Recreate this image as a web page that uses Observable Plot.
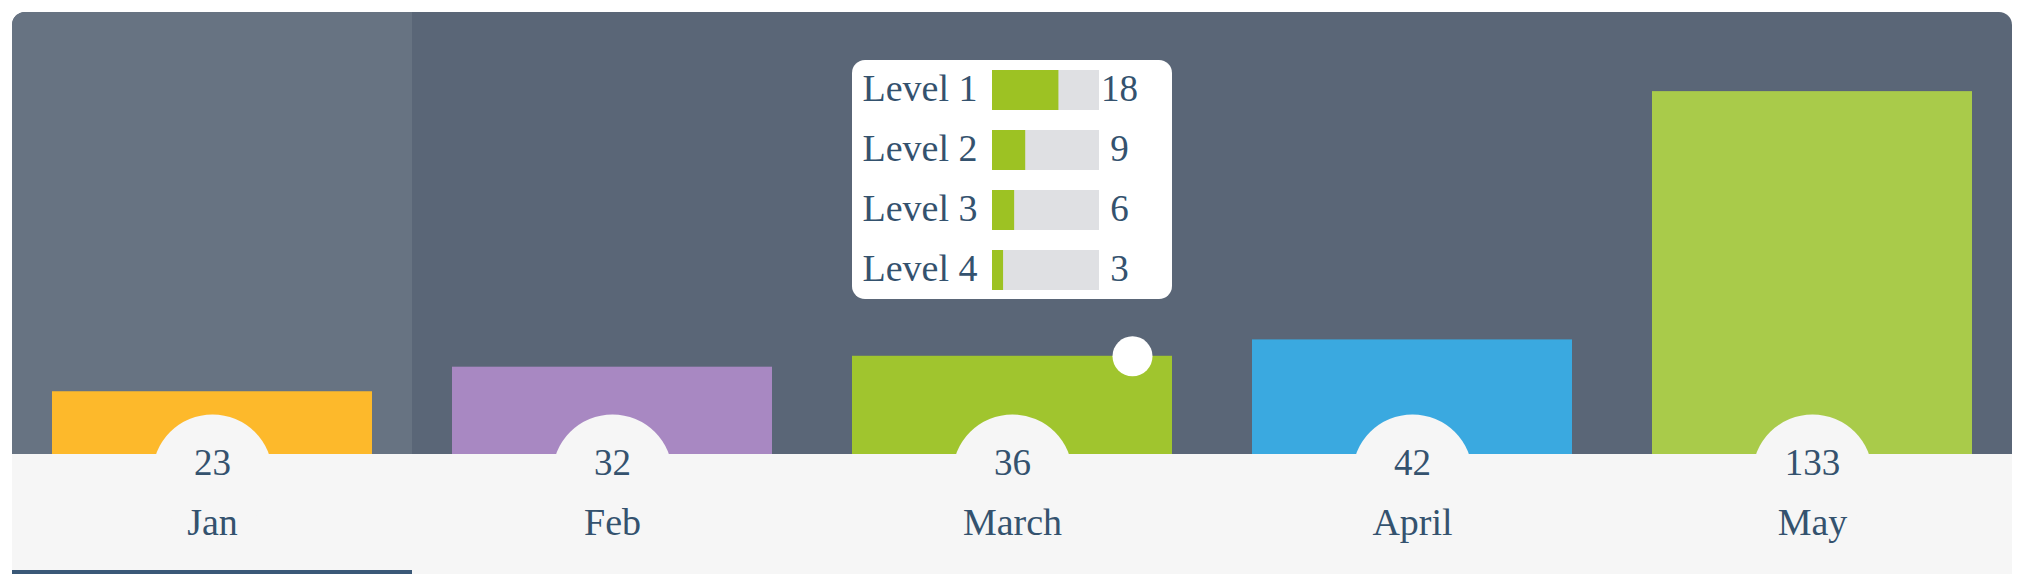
<!DOCTYPE html>
<html>
<head>
<meta charset="utf-8">
<script src="https://cdn.jsdelivr.net/npm/d3@7"></script>
<script src="https://cdn.jsdelivr.net/npm/@observablehq/plot@0.6"></script>
<style>
  html, body { margin: 0; padding: 0; background: #ffffff; }
  #wrap { position: relative; width: 2022px; height: 584px; }
  #panel { position: absolute; left: 12px; top: 12px; width: 2000px; height: 562px; border-radius: 13px 13px 0 0; overflow: hidden; }
  #tip { position: absolute; top: 60px; width: 320px; height: 239px; background: #ffffff; border-radius: 13px; overflow: hidden; }
  svg { display: block; }
</style>
</head>
<body>
<div id="wrap">
  <div id="panel"></div>
  <div id="tip"></div>
</div>
<script>
// ---- data ----
const months = ["Jan", "Feb", "March", "April", "May"];
const values = [23, 32, 36, 42, 133];
const colors = ["#fdb92b", "#a888c2", "#a0c52e", "#3aa9e0", "#a9cb4a"];
const selectedMonth = "Jan";
const hoveredMonth = "March";
const levels = ["Level 1", "Level 2", "Level 3", "Level 4"];
const levelValues = [18, 9, 6, 3];
const levelMax = 29;
const yMax = 162;

// ---- styles ----
const FONT = "'Liberation Serif', 'Times New Roman', Times, serif";
const TEXT = "#34526e";
const BAND = "#f6f6f6";
const WORD_SIZE = 38;
const NUM_SIZE = 37;

const data = months.map((m, i) => ({month: m, value: values[i], color: colors[i]}));
const levelData = levels.map((l, i) => ({level: l, value: levelValues[i]}));

function decor(index, scales, vals, dims) {
  const g = d3.create("svg:g");
  const top = scales.y(0);
  g.append("rect").attr("x", 0).attr("y", top)
    .attr("width", dims.width).attr("height", dims.height - top).attr("fill", BAND);
  const bw = scales.x.bandwidth ? scales.x.bandwidth() : dims.width / months.length;
  g.append("rect").attr("x", scales.x(selectedMonth)).attr("y", dims.height - 4)
    .attr("width", bw).attr("height", 4).attr("fill", "#3a5877");
  return g.node();
}

const chart = Plot.plot({
  width: 2000,
  height: 562,
  margin: 0,
  style: {background: "#5a6677", fontFamily: FONT, overflow: "visible"},
  x: {type: "band", domain: months, range: [0, 2000], padding: 0, axis: null},
  y: {domain: [0, yMax], range: [442, 0], axis: null},
  color: {type: "identity"},
  marks: [
    Plot.cell([selectedMonth], {x: d => d, fill: "#677382"}),
    Plot.barY(data, {x: "month", y: "value", fill: "color", insetLeft: 40, insetRight: 40}),
    decor,
    Plot.dot(data, {x: "month", y: () => 0, r: 60, dy: 20, fill: BAND}),
    Plot.text(data, {x: "month", y: () => 0, text: d => String(d.value), dy: 20, lineAnchor: "bottom", fontSize: NUM_SIZE, fontFamily: FONT, fill: TEXT}),
    Plot.text(data, {x: "month", y: () => 0, text: "month", dy: 80, lineAnchor: "bottom", fontSize: WORD_SIZE, fontFamily: FONT, fill: TEXT}),
    Plot.dot(data.filter(d => d.month === hoveredMonth), {x: "month", y: "value", dx: 120, r: 20, fill: "#ffffff"})
  ]
});
document.getElementById("panel").appendChild(chart);

const tipPlot = Plot.plot({
  width: 320,
  height: 240,
  marginLeft: 140,
  marginRight: 73,
  marginTop: 0,
  marginBottom: 0,
  style: {background: "transparent", fontFamily: FONT, overflow: "visible"},
  x: {domain: [0, levelMax], axis: null},
  y: {domain: levels, padding: 0, axis: null},
  marks: [
    Plot.barX(levelData, {y: "level", x1: 0, x2: () => levelMax, fill: "#dfe0e3", insetTop: 10, insetBottom: 10}),
    Plot.barX(levelData, {y: "level", x1: 0, x2: "value", fill: "#9dc223", insetTop: 10, insetBottom: 10}),
    Plot.text(levelData, {y: "level", frameAnchor: "left", text: "level", dx: -130, dy: 10, textAnchor: "start", lineAnchor: "bottom", fontSize: WORD_SIZE, fontFamily: FONT, fill: TEXT}),
    Plot.text(levelData, {y: "level", x: () => levelMax, text: d => String(d.value), dx: 20, dy: 10, textAnchor: "middle", lineAnchor: "bottom", fontSize: NUM_SIZE, fontFamily: FONT, fill: TEXT})
  ]
});
const tipDiv = document.getElementById("tip");
tipDiv.appendChild(tipPlot);
let bandStart;
try { bandStart = chart.scale("x").apply(hoveredMonth); } catch (e) { bandStart = months.indexOf(hoveredMonth) * 400; }
tipDiv.style.left = (12 + bandStart + 40) + "px";
</script>
</body>
</html>
